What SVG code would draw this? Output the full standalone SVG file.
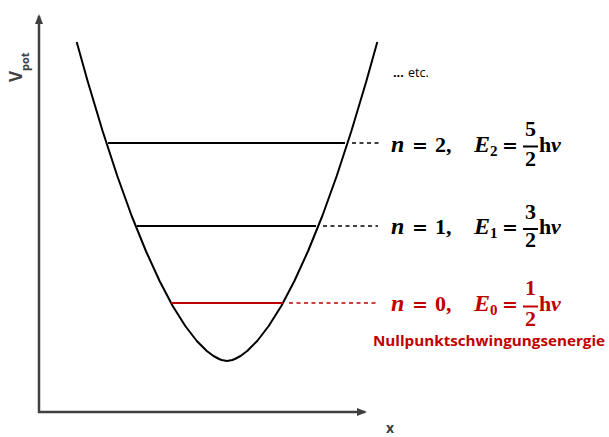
<svg xmlns="http://www.w3.org/2000/svg" width="609" height="437" viewBox="0 0 609 437">
<defs>
<marker id="ah" markerWidth="10" markerHeight="10" refX="8" refY="5" orient="auto" markerUnits="userSpaceOnUse">
<path d="M0,1 L10,5 L0,9 Z" fill="#404040"/>
</marker>
<style>
.axis{stroke:#404040;stroke-width:2.5;fill:none}
.curve{stroke:#000;stroke-width:2;fill:none;stroke-linejoin:round}
.lvl{stroke:#000;stroke-width:2}
.dash{stroke:#000;stroke-width:1.3;stroke-dasharray:4,3.5}
.red{stroke:#c00000}
.m{font-family:"Liberation Serif","DejaVu Serif",serif;font-weight:bold;font-size:22px}
.mi{font-style:italic}
.n{font-size:24px}
.eq{font-family:"DejaVu Serif",serif;font-size:19px}
.sub{font-size:15px}
.s{font-family:"Open Sans","Liberation Sans",sans-serif;font-weight:bold}
.bk{fill:#000}
.rd{fill:#c00000}
</style>
</defs>
<g id="axes">
<line class="axis" x1="39" y1="413" x2="39" y2="16" marker-end="url(#ah)"/>
<line class="axis" x1="38" y1="412" x2="365" y2="412" marker-end="url(#ah)"/>
<text x="0" y="0" transform="translate(22,82) rotate(-90)" class="s" fill="#404040" font-size="17">V<tspan font-size="11" dy="7">pot</tspan></text>
<text x="386" y="433" class="s" fill="#404040" font-size="14">x</text>
</g>
<g id="potential">
<path class="curve" d="M76.7,42 L87.6,81 L102.6,131 L117.3,176 L131.7,216 L145.9,251 L159.6,281 L172.7,306 L185.3,326 L196.8,341 L206.8,351 L213.5,356 L219.1,359 L221.7,360 L227,361 L232.3,360 L234.9,359 L240.5,356 L247.2,351 L257.2,341 L268.7,326 L281.3,306 L294.4,281 L308.1,251 L322.3,216 L336.7,176 L351.4,131 L366.4,81 L377.3,42"/>
</g>
<g id="connectors">
<line class="lvl" x1="108" y1="143" x2="345" y2="143"/>
<line class="dash" x1="352" y1="143" x2="379" y2="143"/>
<line class="lvl" x1="137" y1="226" x2="316" y2="226"/>
<line class="dash" x1="323" y1="226" x2="378" y2="226"/>
<line class="lvl red" x1="171" y1="303" x2="283" y2="303"/>
<line class="dash red" x1="289" y1="303" x2="376" y2="303"/>
</g>
<g id="etc">
<text x="393" y="77" fill="#000"><tspan font-family="Liberation Sans,sans-serif" font-weight="bold" font-size="13">...</tspan><tspan font-family="Open Sans,sans-serif" font-size="12.5" dx="1"> etc.</tspan></text>
</g>
<g id="level2" class="bk">
<text class="m mi n" x="391" y="152">n</text>
<text class="m eq" x="412" y="152">=</text>
<text class="m" x="435" y="152">2,</text>
<text class="m mi n" x="474" y="152">E</text>
<text class="m sub" x="490" y="156">2</text>
<text class="m eq" x="502" y="152">=</text>
<text class="m" x="525" y="136">5</text>
<line x1="523" y1="146.5" x2="538" y2="146.5" stroke="#000" stroke-width="2"/>
<text class="m" x="525" y="166">2</text>
<text class="m" x="539" y="152">h</text>
<text class="m mi" x="551" y="152">ν</text>
</g>
<g id="level1" class="bk">
<text class="m mi n" x="391" y="234">n</text>
<text class="m eq" x="412" y="234">=</text>
<text class="m" x="435" y="234">1,</text>
<text class="m mi n" x="474" y="234">E</text>
<text class="m sub" x="490" y="238">1</text>
<text class="m eq" x="502" y="234">=</text>
<text class="m" x="525" y="219">3</text>
<line x1="523" y1="229" x2="538" y2="229" stroke="#000" stroke-width="2"/>
<text class="m" x="525" y="247">2</text>
<text class="m" x="539" y="234">h</text>
<text class="m mi" x="551" y="234">ν</text>
</g>
<g id="level0" class="rd">
<text class="m mi n" x="391" y="311">n</text>
<text class="m eq" x="412" y="311">=</text>
<text class="m" x="435" y="311">0,</text>
<text class="m mi n" x="474" y="311">E</text>
<text class="m sub" x="490" y="315">0</text>
<text class="m eq" x="502" y="311">=</text>
<text class="m" x="525" y="295">1</text>
<line x1="523" y1="306.5" x2="538" y2="306.5" stroke="#c00000" stroke-width="2"/>
<text class="m" x="525" y="326">2</text>
<text class="m" x="539" y="311">h</text>
<text class="m mi" x="551" y="311">ν</text>
<text class="s" x="373" y="346" font-size="14" textLength="232" lengthAdjust="spacingAndGlyphs">Nullpunktschwingungsenergie</text>
</g>
</svg>
